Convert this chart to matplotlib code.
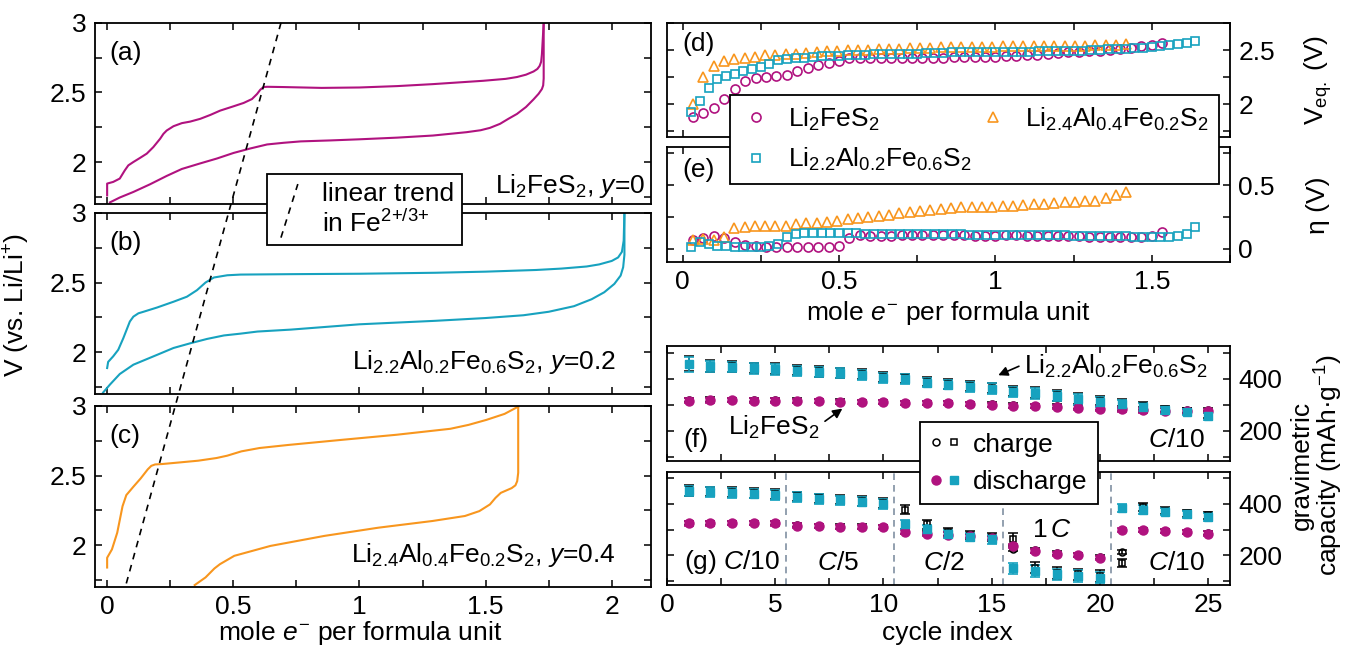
import numpy as np
import matplotlib
matplotlib.use('Agg')
import matplotlib.pyplot as plt
from matplotlib.lines import Line2D
from matplotlib.ticker import MultipleLocator, FormatStrFormatter
from matplotlib.legend_handler import HandlerBase, HandlerTuple

plt.rcParams['font.family'] = ['Liberation Sans', 'DejaVu Sans']
plt.rcParams['mathtext.fontset'] = 'custom'
plt.rcParams['mathtext.rm'] = 'Liberation Sans'
plt.rcParams['mathtext.it'] = 'Liberation Sans:italic'
plt.rcParams['font.size'] = 19
plt.rcParams['axes.linewidth'] = 1.3

MAG = '#b0127f'
TEAL = '#17a2bf'
ORG = '#f8961e'

# ---- voltage profiles (a)-(c): charge (upper) and discharge (lower) ----
a_chg_x = [0, 0, 0.024, 0.05, 0.07, 0.084, 0.104, 0.13, 0.157, 0.183, 0.21, 0.223, 0.236, 0.263,
           0.296, 0.329, 0.369, 0.409, 0.448, 0.501, 0.541, 0.574, 0.594, 0.607, 0.62, 0.634,
           0.7, 0.85, 1.0, 1.15, 1.29, 1.49, 1.58, 1.624, 1.66, 1.69, 1.705, 1.714, 1.72, 1.723,
           1.73]
a_chg_v = [1.76, 1.845, 1.857, 1.881, 1.94, 1.976, 2.0, 2.029, 2.06, 2.107, 2.167, 2.202, 2.226,
           2.257, 2.279, 2.29, 2.31, 2.338, 2.369, 2.4, 2.424, 2.452, 2.488, 2.519, 2.538, 2.54,
           2.538, 2.532, 2.535, 2.545, 2.559, 2.583, 2.597, 2.61, 2.627, 2.65, 2.668, 2.69, 2.72,
           2.774, 3.0]
a_dis_x = [0.011, 0.05, 0.104, 0.17, 0.236, 0.296, 0.369, 0.435, 0.501, 0.567, 0.634, 0.7,
           0.767, 0.886, 1.0, 1.15, 1.291, 1.424, 1.48, 1.517, 1.557, 1.59, 1.624, 1.66, 1.69,
           1.71, 1.723, 1.728, 1.73, 1.73]
a_dis_v = [1.71, 1.745, 1.785, 1.84, 1.9, 1.95, 1.99, 2.025, 2.065, 2.097, 2.126, 2.138,
           2.148, 2.155, 2.163, 2.175, 2.19, 2.214, 2.228, 2.245, 2.274, 2.31, 2.345, 2.395,
           2.45, 2.49, 2.524, 2.55, 2.6, 3.0]

b_chg_x = [0, 0.004, 0.024, 0.044, 0.064, 0.077, 0.09, 0.104, 0.124, 0.144, 0.197, 0.263,
           0.316, 0.356, 0.39, 0.423, 0.476, 0.529, 0.729, 1.0, 1.3, 1.5, 1.7, 1.8, 1.9, 1.95,
           2.0, 2.025, 2.04, 2.047, 2.05]
b_chg_v = [1.886, 1.93, 1.97, 2.017, 2.1, 2.16, 2.22, 2.255, 2.279, 2.29, 2.32, 2.362, 2.398,
           2.445, 2.5, 2.536, 2.552, 2.557, 2.56, 2.563, 2.57, 2.578, 2.59, 2.6, 2.615, 2.63,
           2.655, 2.68, 2.72, 2.8, 3.0]
b_dis_x = [-0.016, 0.011, 0.05, 0.104, 0.197, 0.263, 0.33, 0.396, 0.463, 0.529, 0.596, 0.729,
           1.0, 1.3, 1.5, 1.65, 1.75, 1.85, 1.92, 1.97, 2.01, 2.035, 2.045, 2.05, 2.05]
b_dis_v = [1.71, 1.767, 1.843, 1.91, 1.98, 2.03, 2.064, 2.095, 2.12, 2.133, 2.148, 2.162,
           2.2, 2.225, 2.245, 2.265, 2.29, 2.33, 2.38, 2.43, 2.49, 2.55, 2.61, 2.7, 3.0]

c_chg_x = [0, 0, 0.019, 0.04, 0.061, 0.076, 0.104, 0.133, 0.161, 0.175, 0.19, 0.218, 0.29,
           0.361, 0.433, 0.476, 0.532, 0.604, 0.718, 0.932, 1.146, 1.36, 1.432, 1.503, 1.575,
           1.629]
c_chg_v = [1.84, 1.91, 1.97, 2.09, 2.28, 2.36, 2.42, 2.48, 2.545, 2.57, 2.58, 2.583, 2.595,
           2.607, 2.626, 2.643, 2.674, 2.698, 2.72, 2.757, 2.793, 2.836, 2.864, 2.9, 2.943,
           2.995]
c_dis_x = [0.347, 0.39, 0.425, 0.447, 0.504, 0.647, 0.861, 1.075, 1.289, 1.418, 1.475, 1.517,
           1.539, 1.56, 1.603, 1.618, 1.625, 1.629, 1.629]
c_dis_v = [1.714, 1.769, 1.833, 1.864, 1.924, 1.995, 2.067, 2.126, 2.174, 2.21, 2.245, 2.293,
           2.34, 2.376, 2.41, 2.43, 2.46, 2.52, 2.995]

# linear Fe2+/3+ trend: end points in panel (a) and panel (c)
trend_top = (0.689, 3.0)
trend_bot = (0.072, 1.7)

# ---- GITT (d), (e) ----
mag_x = np.arange(1, 47) / 30
teal_x = np.arange(1, 60) / 36
org_x = np.arange(1, 44) * 0.033

mag_veq = [1.88, 1.92, 1.97, 2.05, 2.145, 2.215, 2.24, 2.25, 2.26, 2.275, 2.31, 2.34, 2.36, 2.385,
           2.40, 2.425, 2.43, 2.43, 2.43, 2.43, 2.43, 2.43, 2.43, 2.43, 2.43, 2.435, 2.435, 2.44,
           2.44, 2.442, 2.445, 2.451, 2.46, 2.46, 2.467, 2.476, 2.482, 2.485, 2.491, 2.497, 2.506,
           2.514, 2.522, 2.537, 2.552, 2.568]
teal_veq = [1.93, 2.03, 2.15, 2.23, 2.26, 2.28, 2.31, 2.33, 2.345, 2.37, 2.41, 2.42, 2.425, 2.43,
            2.44, 2.445, 2.45, 2.45, 2.455, 2.46, 2.46, 2.465, 2.465, 2.47, 2.47, 2.47, 2.47,
            2.475, 2.475, 2.475, 2.48, 2.48, 2.48, 2.48, 2.48, 2.485, 2.485, 2.485, 2.485, 2.485,
            2.49, 2.49, 2.49, 2.49, 2.495, 2.495, 2.5, 2.505, 2.51, 2.51, 2.515, 2.52, 2.525,
            2.53, 2.54, 2.55, 2.56, 2.57, 2.585]
org_veq = [2.00, 2.255, 2.35, 2.40, 2.415, 2.425, 2.44, 2.455, 2.46, 2.465, 2.47, 2.475, 2.485,
           2.495, 2.497, 2.50, 2.505, 2.506, 2.512, 2.513, 2.516, 2.518, 2.522, 2.523, 2.527,
           2.528, 2.531, 2.532, 2.534, 2.535, 2.537, 2.538, 2.54, 2.54, 2.541, 2.542, 2.543,
           2.543, 2.544, 2.545, 2.546, 2.55, 2.56]

mag_eta = [0.067, 0.088, 0.099, 0.088, 0.053, 0.032, 0.02, 0.013, 0.013, 0.013, 0.013, 0.013,
           0.013, 0.013, 0.019, 0.085, 0.107, 0.101, 0.101, 0.101, 0.107, 0.107, 0.11, 0.107,
           0.107, 0.105, 0.105, 0.103, 0.103, 0.103, 0.105, 0.105, 0.103, 0.103, 0.103, 0.1, 0.1,
           0.098, 0.096, 0.094, 0.094, 0.094, 0.094, 0.096, 0.1, 0.133]
teal_eta = [0.013, 0.053, 0.035, 0.02, 0.02, 0.013, 0.013, 0.013, 0.013, 0.02, 0.04, 0.093, 0.12,
            0.125, 0.125, 0.125, 0.125, 0.125, 0.125, 0.125, 0.12, 0.12, 0.12, 0.12, 0.12, 0.118,
            0.118, 0.115, 0.115, 0.115, 0.113, 0.113, 0.11, 0.11, 0.11, 0.11, 0.108, 0.108, 0.108,
            0.107, 0.107, 0.105, 0.105, 0.105, 0.103, 0.103, 0.1, 0.1, 0.1, 0.098, 0.098, 0.096,
            0.096, 0.094, 0.094, 0.096, 0.1, 0.12, 0.173]
org_eta = [0.072, 0.075, 0.072, 0.093, 0.16, 0.173, 0.178, 0.178, 0.178, 0.178, 0.192, 0.2, 0.205,
           0.213, 0.221, 0.234, 0.245, 0.248, 0.258, 0.266, 0.28, 0.292, 0.298, 0.306, 0.314, 0.32,
           0.324, 0.326, 0.328, 0.33, 0.332, 0.338, 0.346, 0.354, 0.354, 0.36, 0.364, 0.367, 0.372,
           0.378, 0.40, 0.42, 0.447]

# ---- cycling (f), (g) ----
cycles = np.arange(1, 26)
f_mag_dis = [315, 317, 317, 316, 316, 315, 313, 311, 310, 309, 307, 306, 305, 303, 299,
             295, 294, 292, 289, 285, 282, 279, 277, 275, 276]
f_mag_chg = [318, 319, 318, 317, 317, 316, 314, 312, 311, 310, 308, 307, 306, 304, 301,
             297, 296, 294, 291, 288, 285, 282, 280, 278, 279]
f_teal_dis = [455, 447, 445, 439, 436, 430, 426, 420, 414, 403, 398, 385, 377, 368, 362,
              349, 343, 333, 320, 311, 301, 292, 279, 272, 256]
f_teal_chg = [457, 449, 447, 441, 438, 432, 428, 423, 417, 406, 401, 388, 380, 371, 365,
              352, 346, 336, 323, 314, 304, 295, 282, 275, 262]
f_mag_err = [9, 9, 8, 8, 8, 8, 8, 8, 8, 8, 8, 8, 8, 8, 8, 8, 8, 8, 9, 9, 9, 9, 9, 9, 9]
f_teal_err = [28, 22, 20, 20, 22, 20, 20, 19, 19, 19, 18, 18, 18, 19, 20,
              20, 20, 20, 20, 20, 18, 16, 14, 12, 14]

g_mag_dis = [324, 324, 325, 325, 324, 316, 313, 311, 311, 310, 291, 284, 281, 275, 266,
             236, 217, 206, 200, 191, 297, 298, 294, 290, 285]
g_mag_chg = [325, 325, 326, 326, 325, 318, 314, 312, 312, 311, 293, 286, 283, 277, 268,
             226, 219, 208, 202, 193, 214, 300, 296, 292, 287]
g_teal_dis = [449, 446, 443, 440, 436, 426, 419, 414, 409, 400, 320, 301, 284, 271, 262,
              150, 139, 126, 120, 113, 385, 378, 369, 359, 349]
g_teal_chg = [452, 448, 445, 442, 438, 429, 422, 417, 411, 403, 378, 320, 291, 279, 271,
              264, 152, 132, 126, 120, 169, 388, 374, 363, 355]
g_mag_err = [8] * 25
g_teal_err = [20, 19, 19, 19, 19, 19, 18, 18, 18, 18, 18, 18, 16, 16, 16,
              22, 22, 22, 22, 22, 16, 16, 14, 14, 14]
rate_steps = [5.5, 10.5, 15.5, 20.5]
rate_labels = ['$C$/10', '$C$/5', '$C$/2', '1$\\,C$', '$C$/10']


def style(ax, xmaj, xmin, ymaj, ymin, right=False):
    ax.xaxis.set_major_locator(MultipleLocator(xmaj))
    ax.xaxis.set_minor_locator(MultipleLocator(xmin))
    ax.yaxis.set_major_locator(MultipleLocator(ymaj))
    ax.yaxis.set_minor_locator(MultipleLocator(ymin))
    ax.yaxis.set_major_formatter(FormatStrFormatter('%g'))
    ax.xaxis.set_major_formatter(FormatStrFormatter('%g'))
    ax.tick_params(which='both', direction='in', top=True, right=True, length=5, width=1.1,
                   labelsize=19, pad=6)
    if right:
        ax.tick_params(labelleft=False, labelright=True)


class SlantHandler(HandlerBase):
    # slanted dashed sample, like the trend line itself
    def create_artists(self, legend, orig_handle, xdescent, ydescent, width, height, fontsize, trans):
        line = Line2D([width * 0.15, width * 0.55], [-height * 1.0, height * 1.9],
                      color='k', lw=1.2, ls=(0, (4, 3.5)))
        line.set_transform(trans)
        return [line]


fig = plt.figure(figsize=(13.46, 6.49), dpi=100)

# left column
L, W, H = 0.0706, 0.413, 0.279
ax_a = fig.add_axes([L, 0.686, W, H])
ax_b = fig.add_axes([L, 0.393, W, H])
ax_c = fig.add_axes([L, 0.0955, W, H])
panels = [(ax_a, a_chg_x, a_chg_v, a_dis_x, a_dis_v, MAG, '(a)'),
          (ax_b, b_chg_x, b_chg_v, b_dis_x, b_dis_v, TEAL, '(b)'),
          (ax_c, c_chg_x, c_chg_v, c_dis_x, c_dis_v, ORG, '(c)')]
for ax, cx, cv, dx, dv, col, tag in panels:
    ax.plot(cx, cv, color=col, lw=1.5)
    ax.plot(dx, dv, color=col, lw=1.5)
    ax.set_xlim(-0.048, 2.155)
    ax.set_ylim(1.7, 3.0)
    style(ax, 0.5, 0.25, 0.5, 0.25)
    ax.text(0.025, 0.9, tag, transform=ax.transAxes, va='top', ha='left')
    if ax is not ax_c:
        ax.tick_params(labelbottom=False)
ax_a.text(0.99, 0.02, 'Li$_2$FeS$_2$, $y$=0', transform=ax_a.transAxes, ha='right', va='bottom')
ax_b.text(0.937, 0.1, 'Li$_{2.2}$Al$_{0.2}$Fe$_{0.6}$S$_2$, $y$=0.2', transform=ax_b.transAxes,
          ha='right', va='bottom')
ax_c.text(0.937, 0.1, 'Li$_{2.4}$Al$_{0.4}$Fe$_{0.2}$S$_2$, $y$=0.4', transform=ax_c.transAxes,
          ha='right', va='bottom')

p1 = fig.transFigure.inverted().transform(ax_a.transData.transform(trend_top))
p2 = fig.transFigure.inverted().transform(ax_c.transData.transform(trend_bot))
fig.add_artist(Line2D([p1[0], p2[0]], [p1[1], p2[1]], transform=fig.transFigure,
                      color='k', lw=1.2, ls=(0, (4, 3.5))))

fig.legend([Line2D([], [])], ['linear trend\nin Fe$^{2{+}/3{+}}$'],
           handler_map={Line2D: SlantHandler()}, loc='upper left',
           bbox_to_anchor=(266.7 / 1346, 1 - 174 / 649), borderaxespad=0, fancybox=False,
           edgecolor='k', framealpha=1, fontsize=19, handlelength=1.6, handletextpad=0.2,
           borderpad=0.3).get_frame().set_linewidth(1.3)

fig.text(0.0126, 0.53, 'V (vs. Li/Li$^{+}$)', rotation=90, ha='center', va='center')
fig.text(0.2675, 0.0247, 'mole $e^{-}$ per formula unit', ha='center', va='center')

# right column
R, RW = 0.4955, 0.4183
ax_d = fig.add_axes([R, 0.7894, RW, 0.1747])
ax_e = fig.add_axes([R, 0.5968, RW, 0.1772])
ax_f = fig.add_axes([R, 0.2901, RW, 0.1767])
ax_g = fig.add_axes([R, 0.0986, RW, 0.1746])

mk = dict(ls='none', mfc='none', mew=1.2)
ax_d.plot(mag_x, mag_veq, marker='o', ms=6.5, mec=MAG, **mk)
ax_d.plot(org_x, org_veq, marker='^', ms=6.5, mec=ORG, **mk)
ax_d.plot(teal_x, teal_veq, marker='s', ms=5.5, mec=TEAL, **mk)
ax_e.plot(mag_x, mag_eta, marker='o', ms=6.5, mec=MAG, **mk)
ax_e.plot(org_x, org_eta, marker='^', ms=6.5, mec=ORG, **mk)
ax_e.plot(teal_x, teal_eta, marker='s', ms=5.5, mec=TEAL, **mk)
for ax in (ax_d, ax_e):
    ax.set_xlim(-0.05, 1.75)
ax_d.set_ylim(1.7, 2.75)
ax_e.set_ylim(-0.1, 0.8)
style(ax_d, 0.5, 0.25, 0.5, 0.25, right=True)
style(ax_e, 0.5, 0.25, 0.5, 0.25, right=True)
ax_d.tick_params(labelbottom=False)
ax_d.text(0.027, 0.92, '(d)', transform=ax_d.transAxes, va='top')
ax_e.text(0.027, 0.9, '(e)', transform=ax_e.transAxes, va='top')

h_mag = Line2D([], [], marker='o', ms=6.5, mec=MAG, **mk)
h_teal = Line2D([], [], marker='s', ms=5.5, mec=TEAL, **mk)
h_org = Line2D([], [], marker='^', ms=6.5, mec=ORG, **mk)
leg = fig.legend([h_mag, h_teal, h_org],
                 ['Li$_2$FeS$_2$', 'Li$_{2.2}$Al$_{0.2}$Fe$_{0.6}$S$_2$',
                  'Li$_{2.4}$Al$_{0.4}$Fe$_{0.2}$S$_2$'],
                 ncol=2, loc='upper left', bbox_to_anchor=(730 / 1346, 1 - 95 / 649),
                 borderaxespad=0, fancybox=False, edgecolor='k', framealpha=1, fontsize=19,
                 handlelength=1.2, handletextpad=0.6, columnspacing=0.2, labelspacing=0.5,
                 borderpad=0.4)
leg.get_frame().set_linewidth(1.3)

fig.text(0.704, 0.5177, 'mole $e^{-}$ per formula unit', ha='center', va='center')
fig.text(0.979, 0.877, 'V$_{\\mathrm{eq.}}$ (V)', rotation=90, ha='center', va='center')
fig.text(0.979, 0.684, 'η (V)', rotation=90, ha='center', va='center')


def cyc(ax, chg_m, dis_m, err_m, chg_t, dis_t, err_t):
    eb = dict(ls='none', capsize=3.5, elinewidth=1.2, capthick=1.2)
    ax.errorbar(cycles, chg_m, yerr=err_m, marker='o', ms=5, mfc='none', mec='k', mew=1.1,
                ecolor='k', **eb)
    ax.errorbar(cycles, chg_t, yerr=err_t, marker='s', ms=4.5, mfc='none', mec='k', mew=1.1,
                ecolor='k', **eb)
    ax.errorbar(cycles, dis_m, yerr=err_m, marker='o', ms=6.5, mfc=MAG, mec=MAG,
                ecolor=MAG, **eb)
    ax.errorbar(cycles, dis_t, yerr=err_t, marker='s', ms=5.5, mfc=TEAL, mec=TEAL,
                ecolor=TEAL, **eb)
    ax.set_xlim(0, 26)
    ax.set_ylim(85, 525)
    style(ax, 5, 2.5, 200, 100, right=True)


cyc(ax_f, f_mag_chg, f_mag_dis, f_mag_err, f_teal_chg, f_teal_dis, f_teal_err)
cyc(ax_g, g_mag_chg, g_mag_dis, g_mag_err, g_teal_chg, g_teal_dis, g_teal_err)
ax_f.tick_params(labelbottom=False)
for xs in rate_steps:
    ax_g.axvline(xs, color='#8090a2', lw=1.2, ls=(0, (4, 3)))

ax_f.text(0.03, 0.08, '(f)', transform=ax_f.transAxes, va='bottom')
ax_f.text(0.955, 0.08, '$C$/10', transform=ax_f.transAxes, va='bottom', ha='right')
ax_f.annotate('Li$_{2.2}$Al$_{0.2}$Fe$_{0.6}$S$_2$', xy=(15.3, 413), xytext=(16.5, 446),
              ha='left', va='center',
              arrowprops=dict(arrowstyle='-|>', color='k', lw=1.2, mutation_scale=14,
                              relpos=(0, 0.6), shrinkA=2, shrinkB=0))
ax_f.annotate('Li$_2$FeS$_2$', xy=(8.1, 285), xytext=(4.95, 212), ha='center', va='center',
              arrowprops=dict(arrowstyle='-|>', color='k', lw=1.2, mutation_scale=14,
                              relpos=(1, 0.6), shrinkA=2, shrinkB=0))

ax_g.text(0.03, 0.08, '(g) ' + rate_labels[0], transform=ax_g.transAxes, va='bottom')
ax_g.text(7.9, 122, rate_labels[1], ha='center', va='bottom')
ax_g.text(12.8, 122, rate_labels[2], ha='center', va='bottom')
ax_g.text(17.75, 300, rate_labels[3], ha='center', va='center')
ax_g.text(23.5, 122, rate_labels[4], ha='center', va='bottom')

mk2 = dict(ls='none')
leg2 = fig.legend([(Line2D([], [], marker='o', ms=5, mfc='none', mec='k', mew=1.1, **mk2),
                    Line2D([], [], marker='s', ms=4.5, mfc='none', mec='k', mew=1.1, **mk2)),
                   (Line2D([], [], marker='o', ms=6.5, mfc=MAG, mec=MAG, **mk2),
                    Line2D([], [], marker='s', ms=5.5, mfc=TEAL, mec=TEAL, **mk2))],
                  ['charge', 'discharge'], handler_map={tuple: HandlerTuple(ndivide=None, pad=0.2)},
                  loc='upper left', bbox_to_anchor=(920 / 1346, 1 - 422 / 649), borderaxespad=0,
                  fancybox=False, edgecolor='k', framealpha=1, fontsize=19, handlelength=1.1,
                  handletextpad=0.5, labelspacing=0.5, borderpad=0.4)
leg2.get_frame().set_linewidth(1.3)

fig.text(0.704, 0.0247, 'cycle index', ha='center', va='center')
fig.text(0.979, 0.2835, 'gravimetric\ncapacity (mAh·g$^{-1}$)', rotation=90, ha='center',
         va='center', multialignment='center', linespacing=0.95)

plt.savefig('out.png', dpi=100)
